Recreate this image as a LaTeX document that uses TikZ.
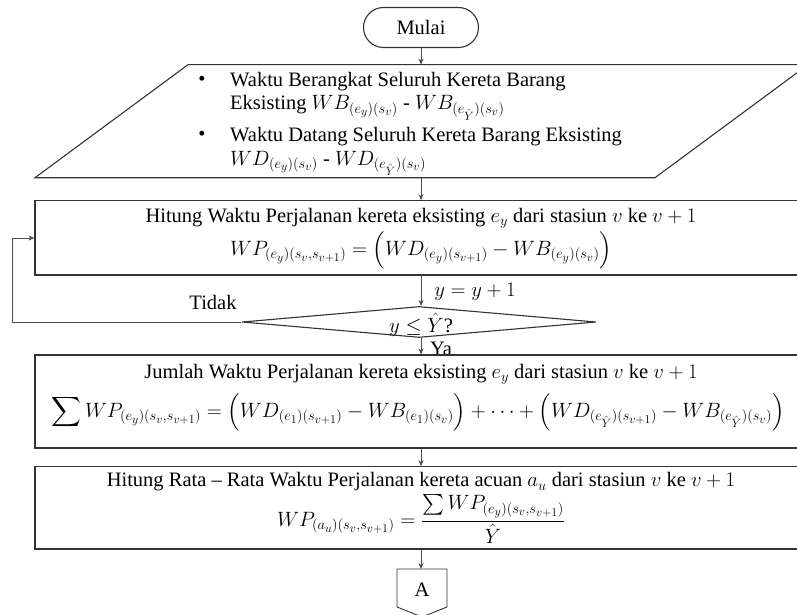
\documentclass[tikz,border=0pt]{standalone}
\usepackage{fontspec}
\setmainfont{Liberation Serif}
\usepackage{amsmath}
\DeclareMathSizes{20.5}{20.5}{15.5}{12}
\usetikzlibrary{arrows.meta,shapes.geometric}
\begin{document}
\begin{tikzpicture}[x=1pt,y=-1pt,
  every node/.style={font=\fontsize{20.5}{24}\selectfont},
  shapeline/.style={draw=black!80,line width=1.1pt},
  conn/.style={draw=black!70,line width=0.8pt,-{Stealth[length=6pt,width=5pt]}},
  boxnode/.style={shapeline,rectangle,minimum width=770pt,inner sep=0pt},
  txt/.style={inner sep=0pt},
]
\useasboundingbox (0,0) rectangle (797,615);
\clip (0,0) rectangle (797,615);

% start
\node[shapeline,rounded corners=20pt,minimum width=115pt,minimum height=40pt,inner sep=0pt] (start) at (421,27.5) {Mulai};

% parallelogram input
\draw[shapeline] (188,64.7) -- (808,64.7) -- (655,177.7) -- (35,177.7) -- cycle;
\coordinate (ptop) at (421,64.7);
\coordinate (pbot) at (421,177.7);
\node[txt] (b1) at (202,81) {\textbullet};
\node[txt,anchor=base west] (l1) at (230,87) {Waktu Berangkat Seluruh Kereta Barang};
\node[txt,anchor=base west] (l2) at (230,110) {Eksisting $WB_{(e_y)(s_v)}$ - $WB_{(e_{\hat{Y}})(s_v)}$};
\node[txt] (b2) at (202,136) {\textbullet};
\node[txt,anchor=base west] (l3) at (230,142) {Waktu Datang Seluruh Kereta Barang Eksisting};
\node[txt,anchor=base west] (l4) at (230,165) {$WD_{(e_y)(s_v)}$ - $WD_{(e_{\hat{Y}})(s_v)}$};

% box 1
\node[boxnode,minimum height=74.3pt] (box1) at (420,237.85) {};
\node[txt] (h1) at (421,218) {Hitung Waktu Perjalanan kereta eksisting $e_y$ dari stasiun $v$ ke $v+1$};
\node[txt] (f1) at (421,250) {$WP_{(e_y)(s_v,s_{v+1})} = \Big(WD_{(e_y)(s_{v+1})} - WB_{(e_y)(s_v)}\Big)$};

% decision
\node[shapeline,diamond,minimum width=354pt,minimum height=31pt,inner sep=0pt] (dec) at (419,322) {};
\node[txt] (dtext) at (421,325) {$y \le \hat{Y}$?};
\node[txt] (inc) at (475,292) {$y = y + 1$};
\node[txt] (tidak) at (213,302) {Tidak};
\node[txt] (ya) at (441,349) {Ya};

% box 2
\node[boxnode,minimum height=93pt] (box2) at (420,401.5) {};
\node[txt] (h2) at (421,374) {Jumlah Waktu Perjalanan kereta eksisting $e_y$ dari stasiun $v$ ke $v+1$};
\node[txt] (f2) at (418,412) {$\displaystyle\sum WP_{(e_y)(s_v,s_{v+1})} = \Big(WD_{(e_1)(s_{v+1})} - WB_{(e_1)(s_v)}\Big) + \cdots + \Big(WD_{(e_{\hat{Y}})(s_{v+1})} - WB_{(e_{\hat{Y}})(s_v)}\Big)$};

% box 3
\node[boxnode,minimum height=82.3pt] (box3) at (420,507.85) {};
\node[txt] (h3) at (421,482) {Hitung Rata -- Rata Waktu Perjalanan kereta acuan $a_u$ dari stasiun $v$ ke $v+1$};
\node[txt] (f3) at (421,519) {$WP_{(a_u)(s_v,s_{v+1})} = \dfrac{\sum WP_{(e_y)(s_v,s_{v+1})}}{\hat{Y}}$};

% off-page connector
\draw[shapeline,line width=0.9pt] (397,569) -- (447,569) -- (447,607) -- (422,617) -- (397,607) -- cycle;
\coordinate (atop) at (421,569);
\node[txt] (A) at (422,590) {A};

% connectors
\draw[conn] (start.south -| ptop) -- (ptop);
\draw[conn] (pbot) -- (box1.north -| pbot);
\draw[conn] (box1.south -| pbot) -- (dec.north -| pbot);
\draw[conn] (dec.south -| pbot) -- (box2.north -| pbot);
\draw[conn] (box2.south -| pbot) -- (box3.north -| pbot);
\draw[conn] (box3.south -| pbot) -- (atop);
\coordinate (loopc) at (12,322);
\draw[conn] (dec.west) -- (loopc) |- (box1.west |- 0,238);
\end{tikzpicture}
\end{document}
